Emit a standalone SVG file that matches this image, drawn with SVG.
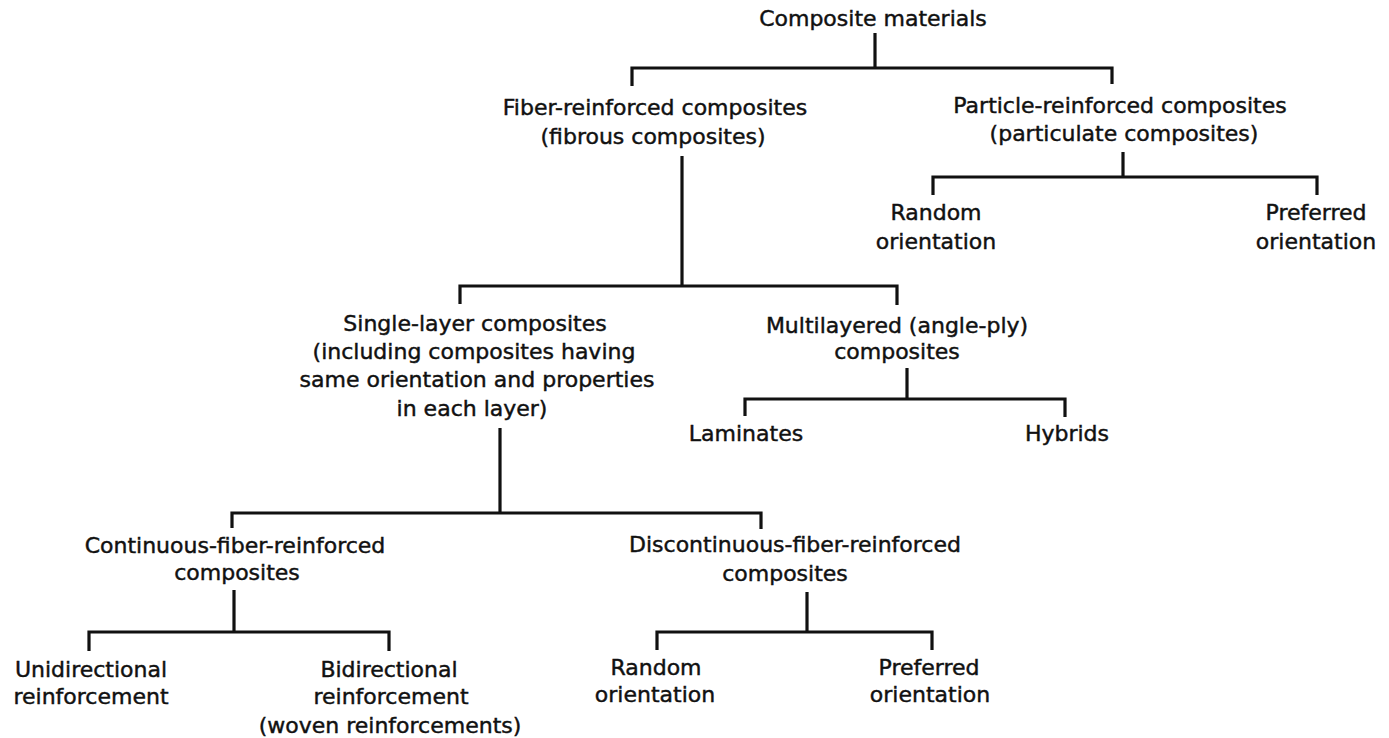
<svg xmlns="http://www.w3.org/2000/svg" width="1389" height="738" viewBox="0 0 1389 738">
<style>
text{font-family:"DejaVu Sans","Liberation Sans",sans-serif;font-size:22px;fill:#111;stroke:#111;stroke-width:0.45;text-anchor:middle}
.c{fill:none;stroke:#111;stroke-width:3.2;stroke-linejoin:miter;stroke-linecap:butt}
</style>
<rect width="1389" height="738" fill="#fff"/>
<g id="connectors">
<path class="c" d="M875,33 V68"/>
<path class="c" d="M632,86 V68 H1112 V84"/>
<path class="c" d="M682,156 V286"/>
<path class="c" d="M460,304 V286 H897 V305"/>
<path class="c" d="M1123,152 V177"/>
<path class="c" d="M933,195 V177 H1317 V195"/>
<path class="c" d="M907,368 V399"/>
<path class="c" d="M745,416 V399 H1065 V417"/>
<path class="c" d="M500,428 V513"/>
<path class="c" d="M232,528 V513 H761 V529"/>
<path class="c" d="M234,590 V632"/>
<path class="c" d="M89,651 V632 H389 V651"/>
<path class="c" d="M807,592 V632"/>
<path class="c" d="M657,650 V632 H932 V650"/>
</g>
<g id="composite-materials"><text x="873" y="26">Composite materials</text></g>
<g id="fiber-reinforced"><text x="655" y="115">Fiber-reinforced composites</text><text x="653" y="144">(fibrous composites)</text></g>
<g id="particle-reinforced"><text x="1120" y="113">Particle-reinforced composites</text><text x="1124" y="141">(particulate composites)</text></g>
<g id="particle-random"><text x="936" y="220">Random</text><text x="936" y="249">orientation</text></g>
<g id="particle-preferred"><text x="1316" y="220">Preferred</text><text x="1316" y="249">orientation</text></g>
<g id="single-layer"><text x="475" y="331">Single-layer composites</text><text x="474" y="359">(including composites having</text><text x="477" y="387">same orientation and properties</text><text x="472" y="416">in each layer)</text></g>
<g id="multilayered"><text x="897" y="333">Multilayered (angle-ply)</text><text x="897" y="359">composites</text></g>
<g id="laminates"><text x="746" y="441">Laminates</text></g>
<g id="hybrids"><text x="1067" y="441">Hybrids</text></g>
<g id="continuous"><text x="235" y="553">Continuous-fiber-reinforced</text><text x="237" y="580">composites</text></g>
<g id="discontinuous"><text x="795" y="552">Discontinuous-fiber-reinforced</text><text x="785" y="581">composites</text></g>
<g id="unidirectional"><text x="91" y="677">Unidirectional</text><text x="91" y="704">reinforcement</text></g>
<g id="bidirectional"><text x="389" y="677">Bidirectional</text><text x="391" y="704">reinforcement</text><text x="390" y="733">(woven reinforcements)</text></g>
<g id="discontinuous-random"><text x="656" y="675">Random</text><text x="655" y="702">orientation</text></g>
<g id="discontinuous-preferred"><text x="929" y="675">Preferred</text><text x="930" y="702">orientation</text></g>
</svg>
